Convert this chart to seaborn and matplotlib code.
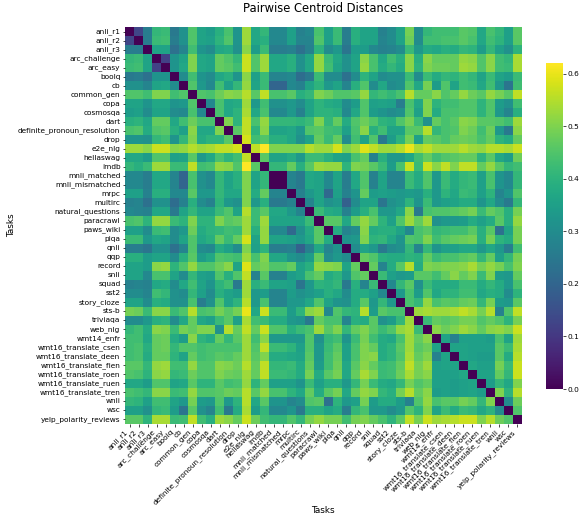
import numpy as np
import pandas as pd
import matplotlib
matplotlib.use("Agg")
import matplotlib.pyplot as plt
import seaborn as sns

tasks = ["anli_r1", "anli_r2", "anli_r3", "arc_challenge", "arc_easy", "boolq", "cb", "common_gen",
         "copa", "cosmosqa", "dart", "definite_pronoun_resolution", "drop", "e2e_nlg", "hellaswag",
         "imdb", "mnli_matched", "mnli_mismatched", "mrpc", "multirc", "natural_questions",
         "paracrawl", "paws_wiki", "piqa", "qnli", "qqp", "record", "snli", "squad", "sst2",
         "story_cloze", "sts-b", "triviaqa", "web_nlg", "wmt14_enfr", "wmt16_translate_csen",
         "wmt16_translate_deen", "wmt16_translate_fien", "wmt16_translate_roen",
         "wmt16_translate_ruen", "wmt16_translate_tren", "wnli", "wsc", "yelp_polarity_reviews"]

# each row holds the distances to the tasks after it (upper triangle)
d00 = [.13, .26, .41, .42, .25, .31, .45, .36, .34, .39, .44, .32, .53, .37, .41, .29, .29, .35, .27, .29, .44, .35, .42, .26, .39, .36, .36, .27, .30, .36, .49, .30, .41, .43, .43, .43, .46, .45, .37, .44, .41, .35, .46]
d01 = [.26, .42, .43, .26, .31, .45, .36, .35, .40, .45, .32, .53, .37, .39, .29, .29, .35, .28, .28, .45, .35, .42, .26, .39, .36, .36, .28, .30, .36, .48, .30, .43, .43, .44, .44, .46, .44, .37, .43, .40, .35, .46]
d02 = [.36, .36, .23, .28, .43, .32, .30, .37, .38, .31, .51, .34, .42, .26, .26, .27, .23, .27, .40, .30, .33, .24, .34, .34, .29, .27, .28, .30, .42, .33, .38, .37, .39, .38, .41, .40, .34, .41, .35, .31, .40]
d03 = [.12, .32, .36, .50, .37, .36, .47, .45, .41, .57, .45, .53, .37, .37, .39, .31, .37, .52, .42, .37, .31, .36, .51, .44, .37, .43, .39, .51, .39, .51, .47, .47, .47, .52, .51, .45, .51, .43, .41, .54]
d04 = [.32, .37, .50, .37, .36, .47, .46, .43, .57, .45, .53, .37, .37, .39, .31, .37, .52, .43, .36, .31, .36, .52, .44, .38, .41, .38, .51, .40, .50, .48, .48, .47, .53, .52, .45, .51, .43, .42, .54]
d05 = [.30, .43, .32, .30, .37, .39, .32, .51, .35, .42, .28, .28, .29, .22, .25, .42, .30, .30, .23, .30, .40, .36, .30, .31, .31, .42, .30, .42, .38, .41, .40, .43, .41, .36, .42, .36, .34, .42]
d06 = [.45, .33, .29, .43, .35, .41, .52, .36, .42, .20, .20, .29, .27, .36, .40, .33, .36, .28, .39, .45, .30, .37, .30, .31, .45, .37, .49, .34, .45, .36, .43, .42, .37, .43, .33, .24, .43]
d07 = [.45, .44, .48, .51, .50, .55, .46, .56, .44, .44, .46, .39, .41, .50, .48, .45, .45, .46, .52, .41, .43, .41, .44, .55, .47, .47, .51, .45, .47, .52, .48, .46, .52, .49, .46, .56]
d08 = [.29, .44, .37, .38, .53, .33, .43, .31, .31, .33, .30, .36, .40, .38, .37, .30, .34, .45, .35, .36, .35, .26, .44, .37, .50, .40, .43, .43, .45, .45, .40, .45, .34, .31, .43]
d09 = [.44, .37, .40, .54, .37, .44, .29, .29, .33, .27, .36, .40, .40, .39, .29, .37, .45, .34, .32, .30, .31, .45, .35, .50, .38, .44, .44, .45, .45, .40, .45, .33, .28, .39]
d10 = [.50, .40, .56, .44, .52, .41, .41, .41, .40, .42, .50, .41, .47, .38, .45, .48, .45, .40, .39, .45, .49, .42, .31, .47, .44, .46, .51, .50, .46, .46, .45, .43, .53]
d11 = [.46, .56, .40, .51, .36, .36, .37, .33, .45, .46, .43, .42, .35, .44, .51, .39, .43, .36, .36, .46, .46, .55, .41, .44, .45, .50, .48, .43, .48, .33, .25, .51]
d12 = [.58, .43, .45, .39, .39, .37, .31, .36, .47, .42, .47, .30, .43, .36, .45, .25, .34, .40, .49, .35, .47, .46, .44, .47, .48, .47, .44, .47, .40, .38, .47]
d13 = [.56, .62, .50, .50, .50, .50, .55, .53, .53, .58, .50, .53, .59, .56, .53, .53, .55, .60, .54, .56, .53, .53, .53, .55, .53, .52, .55, .55, .54, .57]
d14 = [.46, .36, .36, .38, .33, .42, .42, .39, .36, .35, .44, .47, .27, .39, .33, .33, .37, .43, .47, .43, .45, .46, .47, .47, .40, .46, .37, .34, .48]
d15 = [.41, .41, .47, .39, .46, .53, .52, .52, .40, .50, .49, .46, .42, .34, .44, .57, .42, .57, .51, .56, .50, .56, .56, .47, .52, .46, .41, .43]
d16 = [.00, .28, .25, .37, .36, .29, .36, .26, .37, .45, .27, .36, .28, .28, .42, .38, .45, .33, .42, .38, .41, .42, .35, .44, .32, .29, .41]
d17 = [.28, .25, .37, .36, .29, .36, .26, .37, .45, .27, .36, .28, .28, .42, .38, .45, .33, .42, .38, .41, .42, .35, .44, .32, .29, .41]
d18 = [.27, .33, .36, .21, .35, .27, .32, .47, .34, .35, .34, .33, .34, .33, .39, .33, .40, .37, .42, .41, .35, .40, .28, .32, .45]
d19 = [.28, .36, .31, .33, .19, .30, .36, .36, .24, .31, .33, .40, .32, .42, .33, .35, .36, .38, .38, .32, .37, .30, .25, .41]
d20 = [.42, .38, .37, .27, .34, .39, .44, .33, .33, .37, .51, .25, .44, .45, .45, .46, .47, .49, .42, .47, .45, .39, .49]
d21 = [.46, .46, .37, .47, .52, .47, .40, .35, .45, .53, .47, .53, .31, .33, .33, .34, .38, .35, .38, .46, .39, .52]
d22 = [.38, .28, .30, .51, .38, .39, .39, .36, .29, .44, .46, .41, .42, .43, .43, .46, .39, .46, .23, .36, .49]
d23 = [.32, .33, .50, .40, .41, .37, .32, .45, .44, .50, .43, .46, .47, .48, .49, .39, .49, .40, .38, .49]
d24 = [.30, .36, .33, .25, .30, .31, .41, .28, .41, .32, .35, .35, .37, .37, .33, .37, .33, .26, .43]
d25 = [.47, .45, .39, .38, .38, .40, .39, .47, .42, .44, .44, .46, .47, .41, .47, .35, .41, .49]
d26 = [.47, .28, .38, .46, .55, .38, .50, .49, .50, .50, .51, .54, .49, .52, .49, .44, .50]
d27 = [.42, .35, .33, .34, .46, .46, .43, .47, .51, .47, .50, .42, .50, .34, .33, .47]
d28 = [.29, .41, .46, .31, .42, .38, .38, .38, .42, .42, .38, .41, .38, .33, .44]
d29 = [.33, .44, .34, .45, .37, .40, .40, .43, .43, .37, .39, .38, .30, .40]
d30 = [.44, .41, .52, .44, .46, .45, .47, .48, .41, .49, .34, .33, .46]
d31 = [.53, .54, .53, .53, .54, .56, .54, .49, .55, .27, .45, .56]
d32 = [.42, .47, .46, .47, .49, .49, .45, .47, .45, .40, .49]
d33 = [.51, .48, .50, .53, .51, .47, .51, .52, .50, .57]
d34 = [.36, .27, .35, .35, .35, .34, .44, .36, .53]
d35 = [.36, .36, .35, .35, .35, .46, .42, .54]
d36 = [.36, .35, .34, .34, .46, .38, .55]
d37 = [.37, .35, .35, .49, .42, .57]
d38 = [.36, .36, .47, .41, .57]
d39 = [.34, .41, .37, .50]
d40 = [.50, .40, .55]
d41 = [.30, .48]
d42 = [.45]

upper = [d00, d01, d02, d03, d04, d05, d06, d07, d08, d09, d10, d11, d12, d13, d14, d15, d16, d17, d18, d19, d20, d21,
         d22, d23, d24, d25, d26, d27, d28, d29, d30, d31, d32, d33, d34, d35, d36, d37, d38, d39, d40, d41, d42]

n = len(tasks)
matrix = np.zeros((n, n))
for i, row in enumerate(upper):
    matrix[i, i + 1:] = row
matrix = matrix + matrix.T
df = pd.DataFrame(matrix, index=tasks, columns=tasks)

W, H = 580, 517
fig = plt.figure(figsize=(W / 100, H / 100), dpi=100)
ax = fig.add_axes([125 / W, 1 - 424 / H, 397 / W, 397 / H])
cax = fig.add_axes([546 / W, 1 - 389 / H, 17 / W, 326 / H])

sns.heatmap(df, ax=ax, cbar_ax=cax, cmap="viridis", vmin=0, xticklabels=True, yticklabels=True)

ax.set_xticklabels(tasks, rotation=45, ha="right", fontsize=5.3)
ax.set_yticklabels(tasks, rotation=0, fontsize=5.3)
ax.tick_params(length=1.8, width=0.5, pad=1.5)
cax.tick_params(labelsize=5.3, length=1.8, width=0.5, pad=1.5)

ax.set_xlabel("Tasks", fontsize=6.4)
ax.set_ylabel("Tasks", fontsize=6.4)
ax.xaxis.set_label_coords((323 - 125) / 397, -(506 - 424) / 397)
ax.yaxis.set_label_coords(-(125 - 16) / 397, (424 - 225) / 397)
ax.set_title("Pairwise Centroid Distances", fontsize=8.3, pad=10.5)

plt.savefig("out.png", dpi=100)
plt.close()
